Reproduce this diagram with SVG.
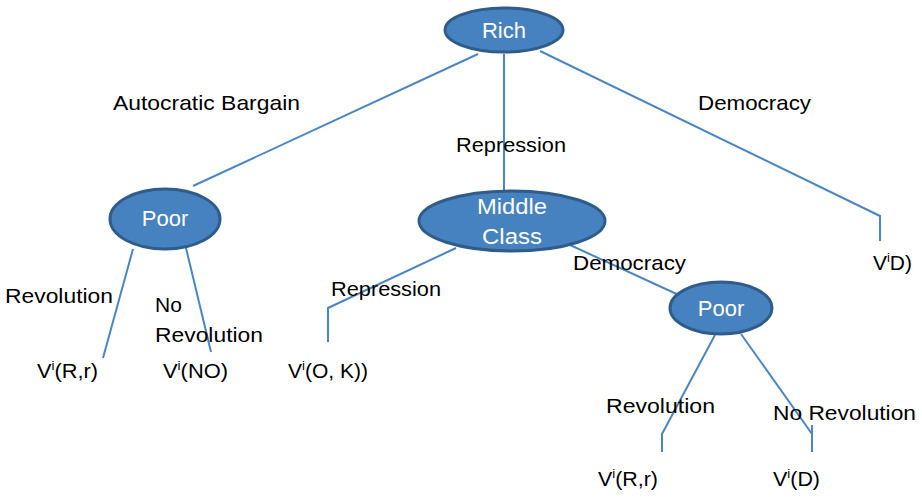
<svg xmlns="http://www.w3.org/2000/svg" width="922" height="497" viewBox="0 0 922 497">
<style>
.node{fill:#4682C0;stroke:#2F5C8A;stroke-width:3}
.conn{fill:none;stroke:#4A86C2;stroke-width:2}
.lbl{font-family:"Liberation Sans",Arial,sans-serif;font-size:21px;fill:#000}
.nt{font-family:"Liberation Sans",Arial,sans-serif;font-size:22px;fill:#fff;text-anchor:middle}
.sup{font-size:13px}
</style>
<rect width="922" height="497" fill="#fff"/>
<g id="connectors">
<line class="conn" x1="478" y1="54" x2="193" y2="186"/>
<line class="conn" x1="504" y1="54" x2="504" y2="192"/>
<polyline class="conn" points="540,51 880,216 880,241"/>
<line class="conn" x1="133" y1="249" x2="103" y2="358"/>
<line class="conn" x1="186" y1="248" x2="211" y2="352"/>
<polyline class="conn" points="456,248 328,308 328,342"/>
<line class="conn" x1="570" y1="245" x2="681" y2="296"/>
<polyline class="conn" points="715,335 662,434 662,452"/>
<line class="conn" x1="741" y1="334" x2="812" y2="434"/>
<line class="conn" x1="812" y1="425" x2="812" y2="452"/>
</g>
<g id="rich">
<ellipse class="node" cx="504" cy="30" rx="59" ry="22"/>
<text class="nt" x="504" y="38">Rich</text>
</g>
<g id="poor1">
<ellipse class="node" cx="165" cy="219" rx="55" ry="30"/>
<text class="nt" x="165" y="226">Poor</text>
</g>
<g id="middle">
<ellipse class="node" cx="512" cy="221" rx="93" ry="30"/>
<text class="nt" x="512" y="214" textLength="70" lengthAdjust="spacingAndGlyphs">Middle</text>
<text class="nt" x="512" y="244" textLength="60" lengthAdjust="spacingAndGlyphs">Class</text>
</g>
<g id="poor2">
<ellipse class="node" cx="721" cy="308" rx="51" ry="26"/>
<text class="nt" x="721" y="316">Poor</text>
</g>
<g id="labels">
<text class="lbl" x="113" y="110" textLength="187" lengthAdjust="spacingAndGlyphs">Autocratic Bargain</text>
<text class="lbl" x="456" y="152" textLength="110" lengthAdjust="spacingAndGlyphs">Repression</text>
<text class="lbl" x="698" y="110" textLength="113" lengthAdjust="spacingAndGlyphs">Democracy</text>
<text class="lbl" x="5" y="303" textLength="108" lengthAdjust="spacingAndGlyphs">Revolution</text>
<text class="lbl" x="155" y="312">No</text>
<text class="lbl" x="155" y="342" textLength="108" lengthAdjust="spacingAndGlyphs">Revolution</text>
<text class="lbl" x="331" y="296" textLength="110" lengthAdjust="spacingAndGlyphs">Repression</text>
<text class="lbl" x="573" y="270" textLength="113" lengthAdjust="spacingAndGlyphs">Democracy</text>
<text class="lbl" x="606" y="413" textLength="109" lengthAdjust="spacingAndGlyphs">Revolution</text>
<text class="lbl" x="773" y="420" textLength="143" lengthAdjust="spacingAndGlyphs">No Revolution</text>
</g>
<g id="leaves">
<text class="lbl" x="37" y="378" textLength="61" lengthAdjust="spacingAndGlyphs">V<tspan class="sup" dy="-8">i</tspan><tspan dy="8">(R,r)</tspan></text>
<text class="lbl" x="163" y="378" textLength="65" lengthAdjust="spacingAndGlyphs">V<tspan class="sup" dy="-8">i</tspan><tspan dy="8">(NO)</tspan></text>
<text class="lbl" x="288" y="378" textLength="80" lengthAdjust="spacingAndGlyphs">V<tspan class="sup" dy="-8">i</tspan><tspan dy="8">(O, K))</tspan></text>
<text class="lbl" x="873" y="270" textLength="39" lengthAdjust="spacingAndGlyphs">V<tspan class="sup" dy="-8">i</tspan><tspan dy="8">D)</tspan></text>
<text class="lbl" x="598" y="486" textLength="60" lengthAdjust="spacingAndGlyphs">V<tspan class="sup" dy="-8">i</tspan><tspan dy="8">(R,r)</tspan></text>
<text class="lbl" x="773" y="486" textLength="47" lengthAdjust="spacingAndGlyphs">V<tspan class="sup" dy="-8">i</tspan><tspan dy="8">(D)</tspan></text>
</g>
</svg>
